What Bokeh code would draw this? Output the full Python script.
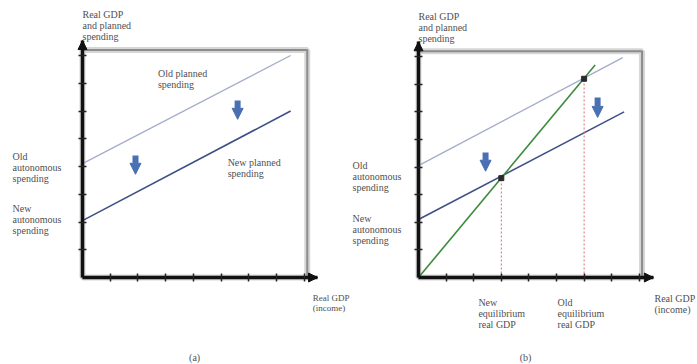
from bokeh.plotting import figure
from bokeh.layouts import row
from bokeh.models import Range1d, Label, Arrow, NormalHead, FixedTicker
from bokeh.embed import file_html
from bokeh.resources import INLINE

# ---- data (tick units) ----
ticks = [1, 2, 3, 4, 5, 6, 7, 8]

a_old_x = [0, 7.5]
a_old_y = [4.1, 8.0]
a_new_x = [0, 7.5]
a_new_y = [2.05, 6.0]

b_old_x = [0, 7.4]
b_old_y = [4.05, 7.97]
b_new_x = [0, 7.45]
b_new_y = [2.1, 6.0]
b_45_x = [0, 6.4]
b_45_y = [0, 7.7]
eq_x = [3, 6]
eq_y = [3.6, 7.2]

FONT = "Liberation Serif"
TXT = "#505050"
FS = "10px"


def lab(p, x, y, text, align="left", baseline="top", size=FS):
    p.add_layout(Label(x=x, y=y, text=text, text_font=FONT, text_font_size=size,
                       text_color=TXT, text_align=align, text_baseline=baseline,
                       text_line_height=1.0))


def down_arrow(p, x, y0, y1):
    p.add_layout(Arrow(end=NormalHead(size=11, fill_color="#4a70b4", line_color="#4a70b4"),
                       x_start=x, y_start=y0, x_end=x, y_end=y1,
                       line_color="#4a70b4", line_width=6))


def panel(width, xr, yr, xtip, ytip):
    p = figure(width=width, height=364, output_backend="svg", toolbar_location=None,
               x_range=Range1d(*xr), y_range=Range1d(*yr),
               min_border_left=0, min_border_right=0, min_border_top=0,
               min_border_bottom=0)
    p.outline_line_color = None
    p.grid.visible = False
    p.xaxis.fixed_location = 0
    p.yaxis.fixed_location = 0
    p.xaxis.bounds = (0, xtip)
    p.yaxis.bounds = (0, ytip)
    for ax in (p.xaxis[0], p.yaxis[0]):
        ax.ticker = FixedTicker(ticks=ticks)
        ax.axis_line_width = 3.5
        ax.axis_line_color = "#111111"
        ax.major_tick_in = 4
        ax.major_tick_out = 4
        ax.major_tick_line_width = 1.5
        ax.major_tick_line_color = "#222222"
        ax.minor_tick_line_color = None
        ax.major_label_overrides = {t: "" for t in ticks}
    # shadow frame
    p.quad(left=0, right=8.1, bottom=0, top=8.2, fill_color=None,
           line_color="#d6d6d6", line_width=6)
    p.quad(left=0, right=8.1, bottom=0, top=8.2, fill_color=None,
           line_color="#8c8c8c", line_width=2)
    # axis arrow heads
    p.add_layout(Arrow(end=NormalHead(size=9, fill_color="#111111", line_color="#111111"),
                       x_start=0, y_start=ytip - 0.3, x_end=0, y_end=ytip,
                       line_color="#111111", line_width=3.5))
    p.add_layout(Arrow(end=NormalHead(size=9, fill_color="#111111", line_color="#111111"),
                       x_start=xtip - 0.3, y_start=0, x_end=xtip, y_end=0,
                       line_color="#111111", line_width=3.5))
    return p


# ---------- panel (a) ----------
pa = panel(350, (-2.955, 9.658), (-3.135, 9.982), 8.47, 8.54)
pa.line(a_old_x, a_old_y, line_color="#a4aeca", line_width=1.4)
pa.line(a_new_x, a_new_y, line_color="#3f5088", line_width=1.6)
down_arrow(pa, 5.59, 6.38, 5.70)
down_arrow(pa, 1.91, 4.40, 3.72)
lab(pa, 0, 9.69, "Real GDP\nand planned\nspending")
lab(pa, 2.72, 7.55, "Old planned\nspending")
lab(pa, 5.23, 4.36, "New planned\nspending")
lab(pa, -2.52, 4.55, "Old\nautonomous\nspending")
lab(pa, -2.52, 2.7, "New\nautonomous\nspending")
lab(pa, 8.3, -0.55, "Real GDP\n(income)", size="9px")
lab(pa, 4.04, -2.88, "(a)", align="center", baseline="middle")

# ---------- panel (b) ----------
pb = panel(347, (-2.464, 10.109), (-3.152, 10.036), 8.51, 8.54)
pb.line(b_old_x, b_old_y, line_color="#a4aeca", line_width=1.4)
pb.line(b_new_x, b_new_y, line_color="#3f5088", line_width=1.6)
pb.line(b_45_x, b_45_y, line_color="#3c8a3c", line_width=1.6)
for xv, yv in zip(eq_x, eq_y):
    pb.line([xv, xv], [0, yv], line_color="#d87070", line_width=1, line_dash="2 2")
pb.scatter(eq_x, eq_y, marker="square", size=5, fill_color="#2a2a2a", line_color="#2a2a2a")
down_arrow(pb, 2.43, 4.53, 3.85)
down_arrow(pb, 6.49, 6.52, 5.80)
lab(pb, 0, 9.67, "Real GDP\nand planned\nspending")
lab(pb, -2.39, 4.27, "Old\nautonomous\nspending")
lab(pb, -2.39, 2.35, "New\nautonomous\nspending")
lab(pb, 2.17, -0.7, "New\nequilibrium\nreal GDP")
lab(pb, 5.04, -0.7, "Old\nequilibrium\nreal GDP")
lab(pb, 8.55, -0.55, "Real GDP\n(income)")
lab(pb, 3.88, -2.9, "(b)", align="center", baseline="middle")

layout = row(pa, pb)
open("out.html", "w").write(file_html(layout, INLINE))
